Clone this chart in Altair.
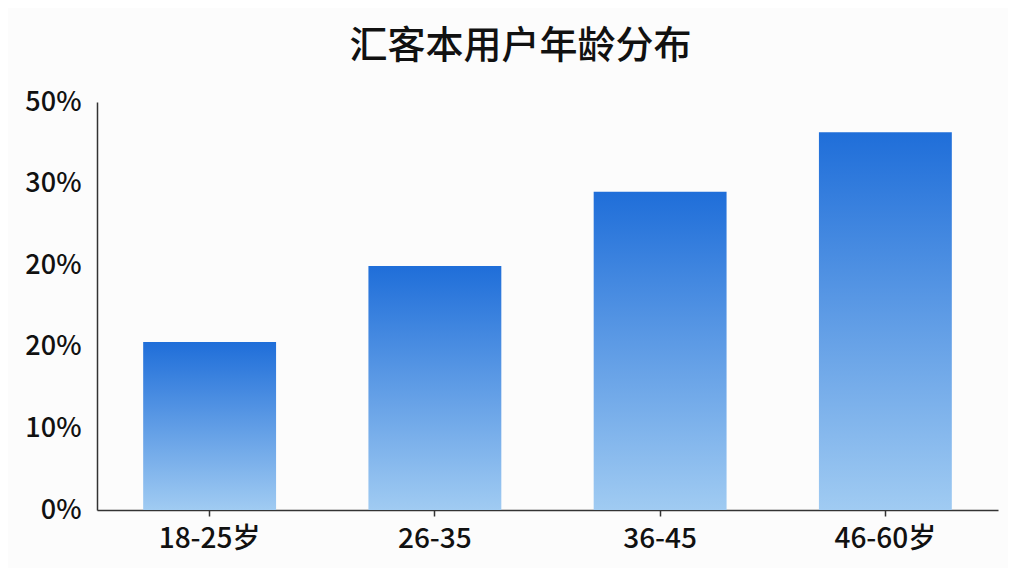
import altair as alt
import pandas as pd
import json

categories = ["18-25岁", "26-35", "36-45", "46-60岁"]
values = [20.6, 29.9, 39.0, 46.3]
tick_values = [0, 10, 20, 30, 40, 50]
tick_labels = ["0%", "10%", "20%", "20%", "30%", "50%"]

df = pd.DataFrame({"age": categories, "share": values})

label_expr = json.dumps(tick_labels) + "[round(datum.value / 10)]"
FONT = "Noto Sans CJK SC"

chart = alt.Chart(df).mark_bar(
    color=alt.Gradient(
        gradient="linear",
        x1=0, y1=0, x2=0, y2=1,
        stops=[alt.GradientStop(color="#1f6ed9", offset=0),
               alt.GradientStop(color="#a0cbf2", offset=1)],
    )
).encode(
    x=alt.X("age:N", sort=categories, title=None,
            scale=alt.Scale(paddingInner=0.41, paddingOuter=0.205),
            axis=alt.Axis(labelAngle=0, labelFontSize=28, labelFont=FONT,
                          labelFontWeight=500,
                          labelColor="#111111", labelPadding=9,
                          domainColor="#333333", domainWidth=1.5,
                          tickColor="#333333", tickSize=6, tickWidth=1.5)),
    y=alt.Y("share:Q", title=None,
            scale=alt.Scale(domain=[0, 50], nice=False),
            axis=alt.Axis(values=tick_values, labelExpr=label_expr,
                          labelFontSize=27, labelFont=FONT, labelColor="#111111",
                          labelFontWeight=500,
                          labelPadding=16, ticks=False, grid=False,
                          domainColor="#333333", domainWidth=1.5)),
).properties(
    width=901, height=408,
    autosize=alt.AutoSizeParams(type="none"),
    padding={"left": 89, "top": 94, "right": 10, "bottom": 58},
    background="#fcfcfc",
    title=alt.TitleParams("汇客本用户年龄分布", fontSize=38, font=FONT,
                          fontWeight=500, color="#111111", offset=22,
                          anchor="middle", dx=-27),
).configure_view(stroke=None)

chart.save("out.html", embed_options={"renderer": "svg", "actions": False})
